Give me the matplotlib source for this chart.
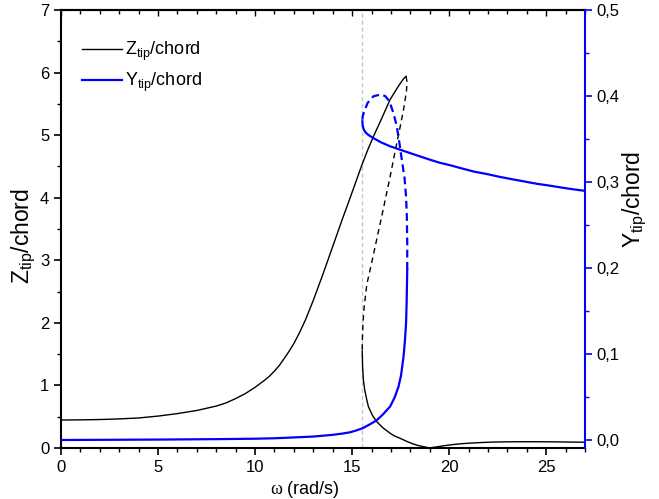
import matplotlib
matplotlib.use("Agg")
import matplotlib.pyplot as plt
from matplotlib.ticker import MultipleLocator, FixedLocator, FixedFormatter

plt.rcParams['font.family'] = ['Liberation Sans', 'DejaVu Sans']
plt.rcParams['mathtext.fontset'] = 'custom'
plt.rcParams['mathtext.rm'] = 'Liberation Serif'
plt.rcParams['mathtext.sf'] = 'Liberation Sans'
plt.rcParams['mathtext.it'] = 'Liberation Sans:italic'

# ---- Data ----
# Z_tip/chord, stable branch rising to the fold (solid)
z_up_w = [0, 1, 2, 3, 4, 5, 6, 7, 7.5, 8, 8.5, 9, 9.5, 10, 10.5, 10.75, 11, 11.25, 11.5, 11.75, 12, 12.3, 12.6,
          13.0, 13.5, 14.0, 14.5, 14.9, 15.2, 15.5, 15.8, 16.1, 16.5, 16.96, 17.4, 17.65, 17.78]
z_up_v = [0.447, 0.45, 0.455, 0.465, 0.48, 0.51, 0.55, 0.60, 0.635, 0.67, 0.72, 0.79, 0.87, 0.97, 1.085, 1.15,
          1.23, 1.32, 1.43, 1.545, 1.67, 1.85, 2.05, 2.36, 2.78, 3.22, 3.66, 4.00, 4.26, 4.52, 4.76, 4.98, 5.25,
          5.57, 5.79, 5.90, 5.94]
# Z_tip/chord, unstable branch (dashed)
z_un_w = [17.78, 17.83, 17.80, 17.65, 17.5, 17.3, 16.96, 16.6, 16.3, 16.0, 15.76, 15.62, 15.56, 15.53, 15.52]
z_un_v = [5.94, 5.85, 5.70, 5.41, 5.17, 4.87, 4.34, 3.81, 3.38, 2.95, 2.62, 2.25, 2.00, 1.75, 1.55]
# Z_tip/chord, lower stable branch (solid)
z_lo_w = [15.52, 15.54, 15.58, 15.65, 15.75, 15.84, 16.05, 16.27, 16.6, 16.96, 17.2, 17.47, 17.82, 18.1, 18.4,
          18.7, 19.0, 19.3, 19.7, 20.2, 20.7, 21.2, 21.7, 22.3, 22.8, 23.5, 24.7, 25.5, 26.2, 27.0]
z_lo_v = [1.55, 1.30, 1.09, 0.93, 0.78, 0.66, 0.52, 0.42, 0.32, 0.235, 0.19, 0.155, 0.105, 0.07, 0.04,
          0.02, 0.0, 0.015, 0.035, 0.055, 0.07, 0.08, 0.088, 0.095, 0.098, 0.10, 0.10, 0.098, 0.095, 0.092]

# Y_tip/chord, lower stable branch (solid)
y_lo_w = [0, 5, 8, 10, 11, 12, 13, 14, 14.5, 14.9, 15.2, 15.53, 15.9, 16.27, 16.6, 16.96, 17.2, 17.39,
          17.52, 17.65, 17.72, 17.78, 17.81, 17.84]
y_lo_v = [0.0, 0.0005, 0.001, 0.0015, 0.002, 0.003, 0.004, 0.006, 0.0075, 0.009, 0.011, 0.0136, 0.018,
          0.023, 0.030, 0.039, 0.050, 0.062, 0.075, 0.097, 0.115, 0.136, 0.16, 0.198]
# Y_tip/chord, unstable branch (dashed)
y_un_w = [17.84, 17.84, 17.82, 17.78, 17.70, 17.56, 17.42, 17.3, 17.13, 16.92, 16.7, 16.45, 16.1, 15.8,
          15.62, 15.54, 15.53]
y_un_v = [0.198, 0.23, 0.26, 0.283, 0.305, 0.326, 0.348, 0.365, 0.380, 0.394, 0.400, 0.4016, 0.3997, 0.392,
          0.382, 0.376, 0.3706]
# Y_tip/chord, upper stable branch (solid)
y_hi_w = [15.53, 15.54, 15.60, 15.70, 15.85, 16.1, 16.5, 16.96, 17.47, 18.2, 19.0, 19.5, 20.05, 20.7, 21.3,
          22.0, 22.6, 23.3, 23.9, 24.5, 25.2, 25.8, 26.4, 27.0]
y_hi_v = [0.3706, 0.366, 0.361, 0.3575, 0.3545, 0.351, 0.346, 0.3415, 0.3376, 0.332, 0.326, 0.3225, 0.3195,
          0.3155, 0.312, 0.309, 0.306, 0.303, 0.3005, 0.298, 0.2957, 0.2935, 0.2915, 0.2897]

w_marker = 15.5  # dashed vertical reference line

x_ticks = [0, 5, 10, 15, 20, 25]
z_ticks = [0, 1, 2, 3, 4, 5, 6, 7]
y_ticks = [0.0, 0.1, 0.2, 0.3, 0.4, 0.5]
y_tick_labels = ["0,0", "0,1", "0,2", "0,3", "0,4", "0,5"]

BLUE = '#0000ff'

fig = plt.figure(figsize=(6.59, 4.99), dpi=100)
ax = fig.add_axes([61/659, 1 - 448/499, (585 - 61)/659, (448 - 10)/499])
ax2 = ax.twinx()

ax.axvline(w_marker, color='#c8c8c8', lw=1.0, dashes=(3, 2), zorder=0)

l_z, = ax.plot(z_up_w, z_up_v, color='black', lw=1.0, label=r'Z$_{\mathsf{tip}}$/chord')
ax.plot(z_un_w, z_un_v, color='black', lw=1.0, dashes=(4, 3))
ax.plot(z_lo_w, z_lo_v, color='black', lw=1.0)

l_y, = ax2.plot(y_lo_w, y_lo_v, color=BLUE, lw=1.6, label=r'Y$_{\mathsf{tip}}$/chord')
ax2.plot(y_un_w, y_un_v, color=BLUE, lw=1.6, dashes=(3.5, 2))
ax2.plot(y_hi_w, y_hi_v, color=BLUE, lw=1.6)

ax.set_xlim(0, 27)
ax.set_ylim(0, 7)
ax2.set_ylim(-0.0093, 0.5)

ax.xaxis.set_major_locator(FixedLocator(x_ticks))
ax.xaxis.set_minor_locator(MultipleLocator(1))
ax.yaxis.set_major_locator(FixedLocator(z_ticks))
ax.yaxis.set_minor_locator(MultipleLocator(0.5))
ax2.yaxis.set_major_locator(FixedLocator(y_ticks))
ax2.yaxis.set_major_formatter(FixedFormatter(y_tick_labels))
ax2.yaxis.set_minor_locator(MultipleLocator(0.05))

for s in ['left', 'bottom', 'top']:
    ax.spines[s].set_linewidth(1.5)
ax.spines['right'].set_visible(False)
for s in ['left', 'bottom', 'top']:
    ax2.spines[s].set_visible(False)
ax2.spines['right'].set_color(BLUE)
ax2.spines['right'].set_linewidth(1.5)

ax.tick_params(axis='both', which='major', direction='out', length=5, width=1.2, labelsize=12, top=False)
ax.tick_params(axis='both', which='minor', direction='out', length=3, width=1.0, top=False)
ax2.tick_params(axis='y', which='major', direction='out', length=5, width=1.2, color=BLUE, labelsize=12)
ax2.tick_params(axis='y', which='minor', direction='out', length=3, width=1.0, color=BLUE)

# top axis ticks pointing inward
axt = ax.secondary_xaxis('top')
axt.xaxis.set_major_locator(FixedLocator(x_ticks))
axt.xaxis.set_minor_locator(MultipleLocator(1))
axt.tick_params(which='major', direction='in', length=4, width=1.0, labeltop=False)
axt.tick_params(which='minor', direction='in', length=3, width=1.0)
axt.spines['top'].set_linewidth(1.5)

ax.set_xlabel(r'$\mathrm{ω}$ (rad/s)', fontsize=13)
ax.xaxis.set_label_coords((305 - 61) / 524, -31 / 438)
ax.set_ylabel(r'Z$_{\mathsf{tip}}$/chord', fontsize=16.5)
ax.yaxis.set_label_coords((38 - 61) / 524, (448 - 236) / 438)
ax2.set_ylabel(r'Y$_{\mathsf{tip}}$/chord', fontsize=16.5)
ax2.yaxis.set_label_coords((621 - 61) / 524, (448 - 199) / 438)

ax.legend(handles=[l_z, l_y], loc='upper left', bbox_to_anchor=(0.01, 0.969),
          frameon=False, fontsize=13, handlelength=2.2, handletextpad=0.15, labelspacing=0.45)

fig.savefig('out.png', dpi=100)
